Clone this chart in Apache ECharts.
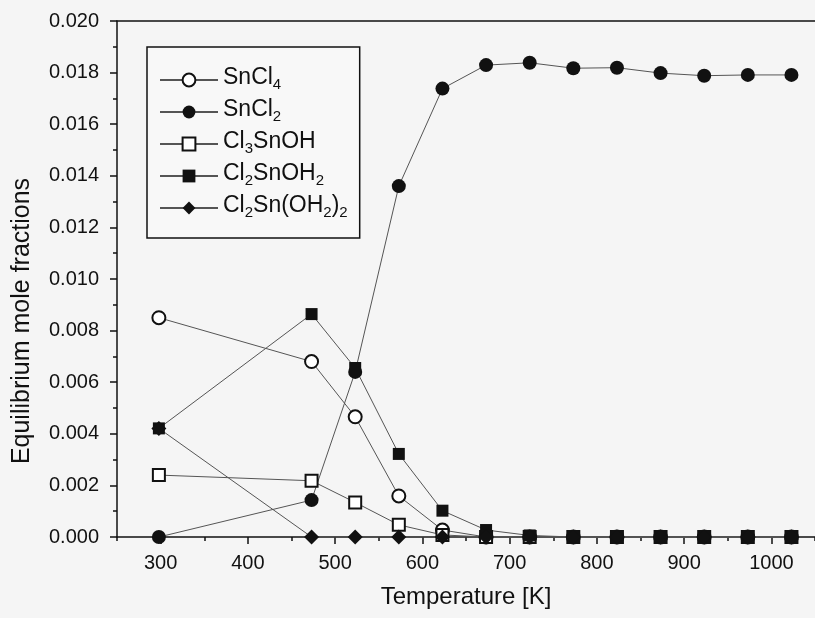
<!DOCTYPE html>
<html>
<head>
<meta charset="utf-8">
<script src="https://cdn.jsdelivr.net/npm/echarts@6/dist/echarts.min.js"></script>
<style>html,body{margin:0;padding:0;background:#f5f5f5;}#c{width:815px;height:618px;}</style>
</head>
<body>
<div id="c"></div>
<script>
var temperatures = [298, 473, 523, 573, 623, 673, 723, 773, 823, 873, 923, 973, 1023];
var snCl4 = [0.0085, 0.0068, 0.00466, 0.00159, 0.00027, 0, 0, 0, 0, 0, 0, 0, 0];
var snCl2 = [0, 0.00143, 0.0064, 0.0136, 0.01738, 0.01829, 0.01838, 0.01817, 0.01819, 0.01798, 0.01788, 0.01791, 0.01791];
var cl3SnOH = [0.0024, 0.00218, 0.00134, 0.00047, 0.00008, 0, 0, 0, 0, 0, 0, 0, 0];
var cl2SnOH2 = [0.00421, 0.00864, 0.00655, 0.00322, 0.00102, 0.00027, 0.00006, 0, 0, 0, 0, 0, 0];
var cl2SnOH22 = [0.00421, 0, 0, 0, 0, 0, 0, 0, 0, 0, 0, 0, 0];
var seriesNames = ['SnCl4', 'SnCl2', 'Cl3SnOH', 'Cl2SnOH2', 'Cl2Sn(OH2)2'];
var legendLabels = [
  '{m|SnCl}{s|4}',
  '{m|SnCl}{s|2}',
  '{m|Cl}{s|3}{m|SnOH}',
  '{m|Cl}{s|2}{m|SnOH}{s|2}',
  '{m|Cl}{s|2}{m|Sn(OH}{s|2}{m|)}{s|2}'
];
var xMajorTicks = [300, 400, 500, 600, 700, 800, 900, 1000];
var xMinorTicks = [250, 350, 450, 550, 650, 750, 850, 950, 1050];

function pts(arr) { return temperatures.map(function (t, i) { return [t, arr[i]]; }); }

var lineCol = '#555';
var mk = '#111';
function mkSeries(name, data, symbol, size) {
  var empty = symbol.indexOf('empty') === 0;
  return {
    name: name, type: 'line', data: pts(data), symbol: symbol, symbolSize: size,
    xAxisIndex: 0, yAxisIndex: 0,
    lineStyle: { color: lineCol, width: 1 },
    itemStyle: { color: mk, borderColor: mk, borderWidth: empty ? 1 : 0 },
    emphasis: { disabled: true }, clip: false, animation: false
  };
}

var chart = echarts.init(document.getElementById('c'));
var font = 'Liberation Sans, Arial, sans-serif';
chart.setOption({
  backgroundColor: '#f5f5f5',
  animation: false,
  grid: { left: 117, top: 21, right: -3, bottom: 81, show: false },
  legend: {
    left: 147, top: 47, orient: 'vertical',
    data: seriesNames,
    backgroundColor: '#f8f8f8',
    borderColor: '#111', borderWidth: 1.5,
    padding: [17, 12, 14, 12],
    itemWidth: 58, itemHeight: 16, itemGap: 0,
    formatter: function (n) { return legendLabels[seriesNames.indexOf(n)]; },
    textStyle: {
      fontFamily: font, fontSize: 23, color: '#111',
      rich: {
        m: { fontFamily: font, fontSize: 23, color: '#111', lineHeight: 24, padding: [2, 0, 7, 0] },
        s: { fontFamily: font, fontSize: 15, color: '#111', verticalAlign: 'bottom', lineHeight: 15 }
      }
    }
  },
  xAxis: [
    {
      type: 'value', min: 250, max: 1050, position: 'bottom',
      name: 'Temperature [K]', nameLocation: 'middle', nameGap: 48, nameMoveOverlap: false,
      nameTextStyle: { fontFamily: font, fontSize: 24, color: '#111' },
      axisLine: { show: true, onZero: false, lineStyle: { color: '#111', width: 1.5 } },
      axisTick: { show: true, customValues: xMajorTicks, length: 7, lineStyle: { color: '#111', width: 1.5 } },
      axisLabel: { customValues: xMajorTicks, fontFamily: font, fontSize: 20, color: '#111', margin: 16,
        formatter: function (v) { return String(v); } },
      splitLine: { show: false }
    },
    {
      type: 'value', min: 250, max: 1050, position: 'bottom',
      axisLine: { show: false },
      axisTick: { show: true, customValues: xMinorTicks, length: 4, lineStyle: { color: '#111', width: 1.5 } },
      axisLabel: { show: false }, splitLine: { show: false }
    },
    {
      type: 'value', min: 250, max: 1050, position: 'top',
      axisLine: { show: true, onZero: false, lineStyle: { color: '#111', width: 1.5 } },
      axisTick: { show: false }, axisLabel: { show: false }, splitLine: { show: false }
    }
  ],
  yAxis: {
    type: 'value', min: 0, max: 0.02, interval: 0.002,
    name: 'Equilibrium mole fractions', nameLocation: 'middle', nameGap: 82, nameMoveOverlap: false,
    nameTextStyle: { fontFamily: font, fontSize: 25, color: '#111', padding: [0, 84, 0, 0] },
    axisLine: { show: true, lineStyle: { color: '#111', width: 1.5 } },
    axisTick: { show: true, length: 7, lineStyle: { color: '#111', width: 1.5 } },
    minorTick: { show: true, splitNumber: 2, length: 4, lineStyle: { color: '#111', width: 1.5 } },
    axisLabel: { fontFamily: font, fontSize: 20, color: '#111', margin: 18, formatter: function (v) { return v.toFixed(3); } },
    splitLine: { show: false }
  },
  series: [
    mkSeries('SnCl4', snCl4, 'emptyCircle', 13),
    mkSeries('SnCl2', snCl2, 'circle', 14),
    mkSeries('Cl3SnOH', cl3SnOH, 'emptyRect', 12),
    mkSeries('Cl2SnOH2', cl2SnOH2, 'rect', 12),
    mkSeries('Cl2Sn(OH2)2', cl2SnOH22, 'diamond', 15)
  ]
});
</script>
</body>
</html>
